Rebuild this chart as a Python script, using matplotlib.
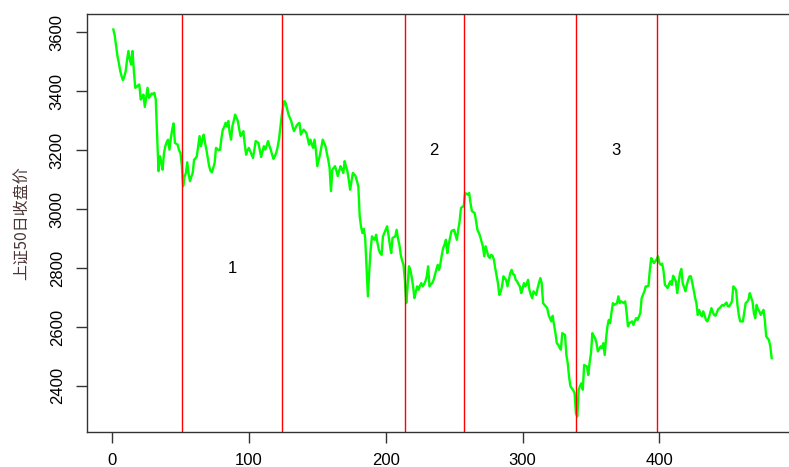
import numpy as np
import matplotlib
matplotlib.use("Agg")
import matplotlib.pyplot as plt

# 上证50 daily closes, trading days 1..482
close = [
    3610, 3590, 3555, 3520, 3497, 3470, 3452, 3438, 3450, 3468,
    3505, 3537, 3510, 3491, 3537, 3470, 3412, 3415, 3420, 3423,
    3372, 3380, 3389, 3347, 3380, 3412, 3378, 3385, 3393, 3390,
    3395, 3372, 3250, 3129, 3180, 3160, 3134, 3190, 3214, 3228,
    3236, 3202, 3240, 3270, 3291, 3225, 3222, 3219, 3200, 3191,
    3151, 3078, 3110, 3123, 3159, 3120, 3095, 3110, 3123, 3168,
    3172, 3180, 3215, 3248, 3214, 3235, 3253, 3225, 3202, 3175,
    3146, 3130, 3125, 3140, 3157, 3208, 3204, 3200, 3202, 3242,
    3270, 3279, 3293, 3280, 3299, 3260, 3236, 3282, 3300, 3321,
    3310, 3299, 3270, 3248, 3255, 3265, 3220, 3185, 3200, 3208,
    3197, 3185, 3174, 3200, 3231, 3228, 3225, 3200, 3177, 3195,
    3214, 3202, 3215, 3231, 3215, 3202, 3185, 3171, 3180, 3191,
    3210, 3236, 3275, 3316, 3345, 3367, 3359, 3340, 3321, 3310,
    3299, 3280, 3265, 3275, 3284, 3290, 3293, 3253, 3262, 3270,
    3265, 3259, 3240, 3219, 3236, 3220, 3208, 3236, 3200, 3146,
    3165, 3185, 3210, 3236, 3225, 3214, 3190, 3168, 3140, 3061,
    3134, 3140, 3146, 3130, 3112, 3130, 3146, 3135, 3123, 3163,
    3145, 3129, 3100, 3066, 3095, 3123, 3118, 3112, 3095, 3078,
    2976, 2940, 2919, 2933, 2902, 2800, 2704, 2790, 2862, 2908,
    2900, 2896, 2913, 2885, 2862, 2850, 2845, 2908, 2919, 2930,
    2942, 2913, 2880, 2851, 2902, 2905, 2908, 2930, 2900, 2879,
    2845, 2825, 2811, 2760, 2681, 2738, 2806, 2794, 2770, 2738,
    2698, 2720, 2738, 2726, 2740, 2749, 2738, 2745, 2755, 2772,
    2806, 2738, 2745, 2749, 2760, 2778, 2795, 2811, 2794, 2815,
    2845, 2868, 2880, 2896, 2851, 2880, 2902, 2925, 2928, 2930,
    2913, 2896, 2930, 2959, 3004, 3008, 3010, 3055, 3052, 3049,
    3055, 3020, 2993, 2990, 2987, 2960, 2930, 2920, 2908, 2890,
    2874, 2840, 2874, 2857, 2840, 2834, 2845, 2842, 2830, 2800,
    2775, 2749, 2709, 2720, 2738, 2772, 2765, 2760, 2738, 2760,
    2783, 2794, 2780, 2777, 2760, 2755, 2745, 2738, 2715, 2730,
    2749, 2738, 2745, 2760, 2726, 2710, 2698, 2721, 2715, 2709,
    2732, 2750, 2766, 2749, 2681, 2675, 2670, 2664, 2641, 2630,
    2619, 2638, 2607, 2580, 2545, 2540, 2530, 2523, 2579, 2576,
    2573, 2505, 2477, 2430, 2398, 2392, 2385, 2375, 2307, 2296,
    2387, 2400, 2409, 2387, 2471, 2468, 2466, 2437, 2480, 2511,
    2579, 2570, 2562, 2545, 2517, 2525, 2534, 2528, 2545, 2505,
    2560, 2602, 2624, 2613, 2650, 2681, 2675, 2678, 2681, 2704,
    2681, 2687, 2684, 2681, 2687, 2650, 2602, 2613, 2616, 2619,
    2607, 2620, 2630, 2624, 2635, 2647, 2698, 2710, 2721, 2738,
    2738, 2740, 2794, 2834, 2825, 2817, 2823, 2830, 2840, 2817,
    2811, 2815, 2790, 2743, 2738, 2732, 2745, 2755, 2743, 2774,
    2765, 2755, 2715, 2750, 2783, 2797, 2749, 2735, 2721, 2743,
    2760, 2772, 2772, 2750, 2726, 2700, 2681, 2641, 2658, 2645,
    2636, 2653, 2640, 2624, 2619, 2630, 2647, 2664, 2650, 2641,
    2638, 2650, 2661, 2664, 2670, 2675, 2672, 2678, 2683, 2670,
    2670, 2678, 2687, 2738, 2732, 2726, 2675, 2640, 2619, 2619,
    2619, 2650, 2681, 2685, 2692, 2715, 2700, 2687, 2647, 2630,
    2675, 2660, 2653, 2641, 2650, 2658, 2624, 2568, 2562, 2556,
    2534, 2494,
]

# turning points (local lows / highs) splitting the series into phases
breaks = [52, 125, 215, 258, 340, 399]
phase_labels = ["1", "2", "3"]
phase_x = [88, 235, 368]
phase_y = [2800, 3200, 3200]

x_ticks = [0, 100, 200, 300, 400]
y_ticks = [2400, 2600, 2800, 3000, 3200, 3400, 3600]

day = np.arange(1, len(close) + 1)
close = np.array(close)

fig = plt.figure(figsize=(7.89, 4.67), dpi=100)
ax = fig.add_axes([87 / 789, 35 / 467, 711 / 789, 418 / 467])

ax.plot(day, close, color="#00ff00", lw=1.7)
for b in breaks:
    ax.axvline(b - 0.6, color="#ff0000", lw=1.0)
for t, tx, ty in zip(phase_labels, phase_x, phase_y):
    ax.text(tx, ty, t, ha="center", va="center", fontsize=12,
            family="Liberation Sans")

# R-style 4% padding around the data range
xr = day.max() - day.min()
yr = close.max() - close.min()
ax.set_xlim(day.min() - 0.04 * xr, day.max() + 0.04 * xr)
ax.set_ylim(close.min() - 0.04 * yr, close.max() + 0.04 * yr)

ax.set_xticks(x_ticks)
ax.set_yticks(y_ticks)
ax.tick_params(length=8, width=1, color="#333333", labelsize=12)
ax.tick_params(axis="x", pad=7)
ax.tick_params(axis="y", pad=8, labelrotation=90)
for lab in ax.get_xticklabels() + ax.get_yticklabels():
    lab.set_family("Liberation Sans")
for lab in ax.get_yticklabels():
    lab.set_va("center")
for sp in ax.spines.values():
    sp.set_color("#333333")
    sp.set_linewidth(1.0)

ax.set_ylabel("上证50日收盘价", fontsize=11.5, color="#4a3434",
              family=["Noto Sans CJK SC", "DejaVu Sans"], labelpad=14)

fig.savefig("out.png", dpi=100)
